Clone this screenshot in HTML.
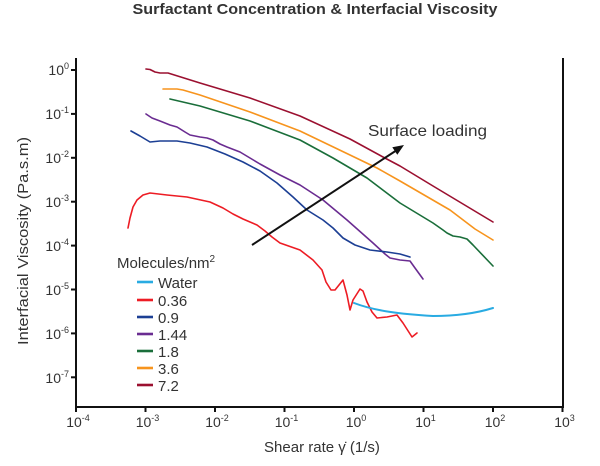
<!DOCTYPE html>
<html>
<head>
<meta charset="utf-8">
<style>
html,body{margin:0;padding:0;background:#fff;}
svg{display:block;}
text{font-family:"Liberation Sans",sans-serif;fill:#333;}
</style>
</head>
<body>
<svg width="600" height="466" viewBox="0 0 600 466" xmlns="http://www.w3.org/2000/svg">
<rect width="600" height="466" fill="#fff"/>
<!-- title -->
<text x="315" y="14" text-anchor="middle" font-size="15" font-weight="bold" fill="#222" textLength="365" lengthAdjust="spacingAndGlyphs">Surfactant Concentration &amp; Interfacial Viscosity</text>

<!-- axes -->
<g stroke="#111" stroke-width="2" fill="none">
<line x1="76" y1="58" x2="76" y2="408"/>
<line x1="75" y1="407" x2="564" y2="407"/>
<line x1="563" y1="58" x2="563" y2="408"/>
</g>
<!-- y ticks -->
<g stroke="#111" stroke-width="2">
<line x1="71" y1="70" x2="76" y2="70"/>
<line x1="71" y1="113.9" x2="76" y2="113.9"/>
<line x1="71" y1="157.8" x2="76" y2="157.8"/>
<line x1="71" y1="201.7" x2="76" y2="201.7"/>
<line x1="71" y1="245.6" x2="76" y2="245.6"/>
<line x1="71" y1="289.5" x2="76" y2="289.5"/>
<line x1="71" y1="333.4" x2="76" y2="333.4"/>
<line x1="71" y1="377.3" x2="76" y2="377.3"/>
</g>
<!-- x ticks -->
<g stroke="#111" stroke-width="2">
<line x1="76" y1="407" x2="76" y2="412"/>
<line x1="145.5" y1="407" x2="145.5" y2="412"/>
<line x1="215" y1="407" x2="215" y2="412"/>
<line x1="284.5" y1="407" x2="284.5" y2="412"/>
<line x1="354" y1="407" x2="354" y2="412"/>
<line x1="423.5" y1="407" x2="423.5" y2="412"/>
<line x1="493" y1="407" x2="493" y2="412"/>
<line x1="562.5" y1="407" x2="562.5" y2="412"/>
</g>

<!-- y tick labels -->
<g font-size="14" text-anchor="end">
<text x="69" y="75">10<tspan dy="-6" font-size="9">0</tspan></text>
<text x="69" y="119">10<tspan dy="-6" font-size="9">-1</tspan></text>
<text x="69" y="163">10<tspan dy="-6" font-size="9">-2</tspan></text>
<text x="69" y="207">10<tspan dy="-6" font-size="9">-3</tspan></text>
<text x="69" y="251">10<tspan dy="-6" font-size="9">-4</tspan></text>
<text x="69" y="295">10<tspan dy="-6" font-size="9">-5</tspan></text>
<text x="69" y="339">10<tspan dy="-6" font-size="9">-6</tspan></text>
<text x="69" y="383">10<tspan dy="-6" font-size="9">-7</tspan></text>
</g>
<!-- x tick labels -->
<g font-size="14" text-anchor="middle">
<text x="78" y="427">10<tspan dy="-6" font-size="9">-4</tspan></text>
<text x="147.5" y="427">10<tspan dy="-6" font-size="9">-3</tspan></text>
<text x="217" y="427">10<tspan dy="-6" font-size="9">-2</tspan></text>
<text x="286.5" y="427">10<tspan dy="-6" font-size="9">-1</tspan></text>
<text x="356" y="427">10<tspan dy="-6" font-size="9">0</tspan></text>
<text x="425.5" y="427">10<tspan dy="-6" font-size="9">1</tspan></text>
<text x="495" y="427">10<tspan dy="-6" font-size="9">2</tspan></text>
<text x="564.5" y="427">10<tspan dy="-6" font-size="9">3</tspan></text>
</g>

<!-- axis labels -->
<text x="322" y="452" text-anchor="middle" font-size="15" fill="#444">Shear rate γ̇ (1/s)</text>
<text transform="translate(28,241) rotate(-90)" text-anchor="middle" font-size="15" fill="#444" textLength="208" lengthAdjust="spacingAndGlyphs">Interfacial Viscosity (Pa.s.m)</text>

<!-- series -->
<g fill="none" stroke-width="1.6" stroke-linejoin="round" stroke-linecap="round">
<polyline stroke="#9b1030" points="146,69 150,69.5 155,72 160,73 168,73 200,83 250,98 300,116 350,139 383,157 400,166 433,186 463,204 493,222"/>
<polyline stroke="#f7941d" points="163,89 177,89 183,90 200,95 250,112 300,131 350,155 377,168 400,181 450,210 475,229 493,240"/>
<polyline stroke="#1a6e3a" points="170,99 200,106 250,121 300,140 333,158 367,178 400,203 433,223 443,230 447,233 453,236 460,237 467,239 473,245 493,266"/>
<polyline stroke="#6a2c91" points="146,114 152,118 160,121 170,125 177,127 185,132 190,135 200,137 207,138 213,140 220,144 227,147 240,152 260,164 280,175 300,185 323,200 347,220 373,243 385,254 390,258 400,260 410,261 415,268 423,279"/>
<polyline stroke="#1c3f94" points="131,131 140,136 150,142 160,141 177,141 190,143 207,147 225,154 243,162 260,171 277,183 293,197 307,210 323,220 333,228 343,238 355,245 370,250 387,252 400,254 410,257"/>
<polyline stroke="#ed1c24" points="128,228 130,218 133,207 137,200 143,195 150,193 167,195 187,197 210,202 223,208 233,214 243,219 257,225 265,231 272,237 280,243 300,250 313,260 322,270 326,282 331,290 335,290 343,280 347,295 350,310 353,300 360,289 363,291 367,302 372,312 377,318 387,317 397,315 403,323 412,337 417,333"/>
<path stroke="#29abe2" stroke-width="2" d="M354,303 C375,311 400,314 433,316 C457,316 477,313 493,308"/>
</g>

<!-- arrow -->
<line x1="252" y1="245" x2="397" y2="150" stroke="#111" stroke-width="2"/>
<polygon points="404,145 392.3,147.2 397.3,154.8" fill="#111"/>
<text x="368" y="136" font-size="16" fill="#444" textLength="119" lengthAdjust="spacingAndGlyphs">Surface loading</text>

<!-- legend -->
<text x="117" y="268" font-size="15" fill="#444">Molecules/nm<tspan dy="-6" font-size="10">2</tspan></text>
<g stroke-width="2.6">
<line x1="137" y1="282" x2="153" y2="282" stroke="#29abe2"/>
<line x1="137" y1="300" x2="153" y2="300" stroke="#ed1c24"/>
<line x1="137" y1="317" x2="153" y2="317" stroke="#1c3f94"/>
<line x1="137" y1="334" x2="153" y2="334" stroke="#6a2c91"/>
<line x1="137" y1="351" x2="153" y2="351" stroke="#1a6e3a"/>
<line x1="137" y1="368" x2="153" y2="368" stroke="#f7941d"/>
<line x1="137" y1="385" x2="153" y2="385" stroke="#9b1030"/>
</g>
<g font-size="15" fill="#444">
<text x="158" y="288">Water</text>
<text x="158" y="306">0.36</text>
<text x="158" y="323">0.9</text>
<text x="158" y="340">1.44</text>
<text x="158" y="357">1.8</text>
<text x="158" y="374">3.6</text>
<text x="158" y="391">7.2</text>
</g>
</svg>
</body>
</html>
